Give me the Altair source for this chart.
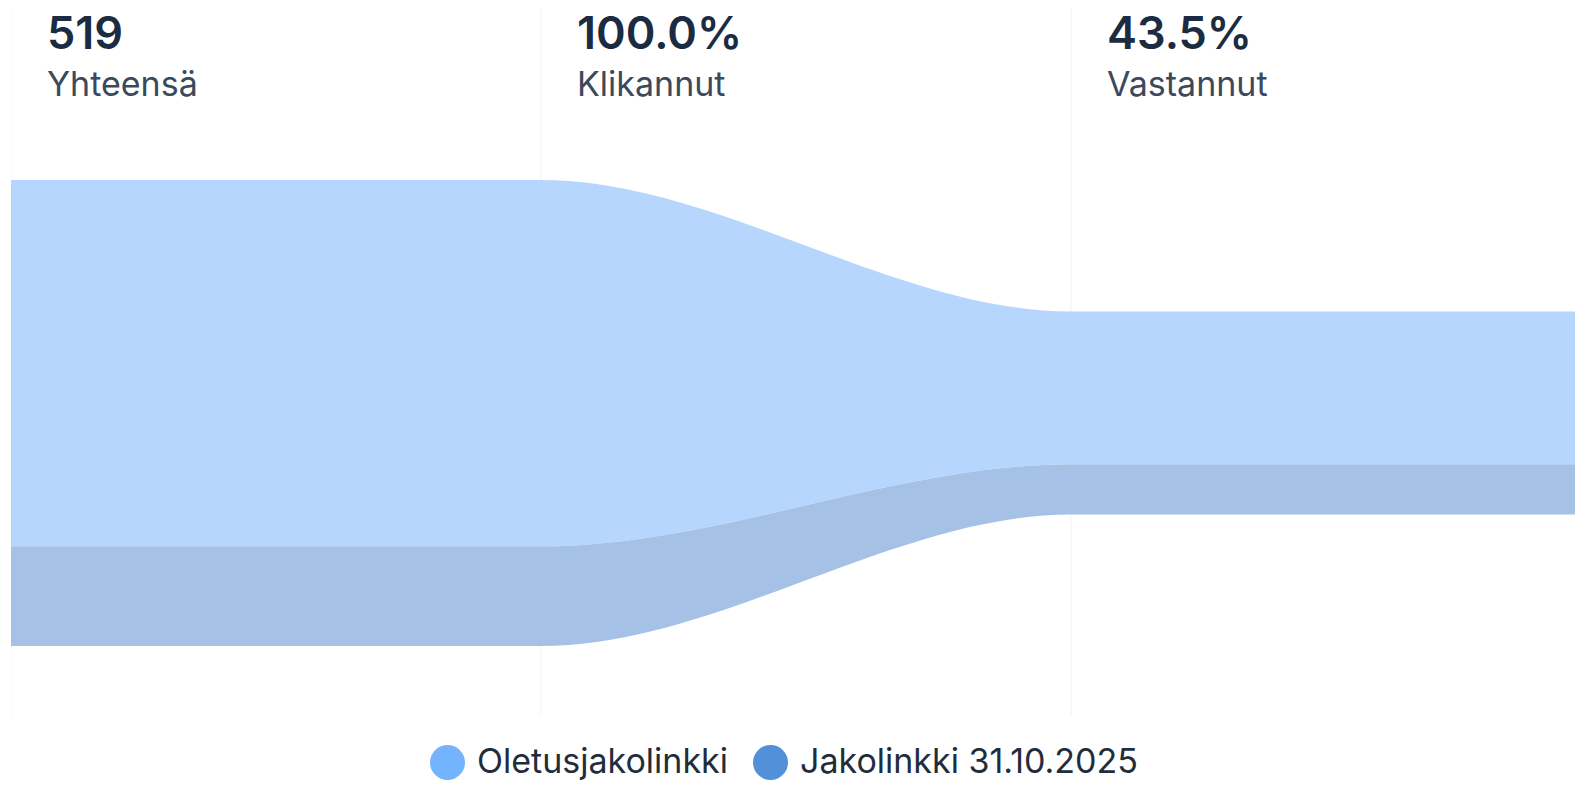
import altair as alt
import pandas as pd

# ---- data ----
stages = ["Yhteensä", "Klikannut", "Vastannut"]
series = ["Oletusjakolinkki", "Jakolinkki 31.10.2025"]
oletus = [408, 408, 170]
jako = [111, 111, 56]

legend_colors = ["#74B4FF", "#5290D9"]
area_colors = ["#B6D6FE", "#A5C2E6"]

# ---- tables ----
rows = []
for i in range(len(stages)):
    rows.append({"x": i, "series": series[0], "value": oletus[i], "ord": 1})
    rows.append({"x": i, "series": series[1], "value": jako[i], "ord": 0})
last = len(stages) - 1
rows.append({"x": last + 1, "series": series[0], "value": oletus[last], "ord": 1})
rows.append({"x": last + 1, "series": series[1], "value": jako[last], "ord": 0})
df = pd.DataFrame(rows)

totals = [o + j for o, j in zip(oletus, jako)]
heads = [str(totals[0])] + [f"{t / totals[0] * 100:.1f}%" for t in totals[1:]]
hdf = pd.DataFrame({"x": list(range(len(stages))), "stage": stages, "head": heads})
grid = pd.DataFrame({"x": list(range(len(stages) + 1))})

W, H = 1564, 707
COL = 530.0
xs = alt.Scale(domain=[0, W / COL], nice=False, zero=False)
ys = alt.Scale(domain=[-76.85, 710.55], nice=False, zero=False)

rules = alt.Chart(grid).mark_rule(color="#F1F2F4", strokeWidth=1, clip=True).encode(
    x=alt.X("x:Q", scale=xs, axis=None),
    y=alt.value(0),
    y2=alt.value(H),
)

area = alt.Chart(df).mark_area(interpolate="monotone", clip=True).encode(
    x=alt.X("x:Q", scale=xs, axis=None),
    y=alt.Y("value:Q", stack="center", scale=ys, axis=None),
    color=alt.Color("series:N", scale=alt.Scale(domain=series, range=area_colors), legend=None),
    order=alt.Order("ord:Q"),
)

legend_layer = alt.Chart(df).mark_circle(opacity=0, clip=True).encode(
    x=alt.X("x:Q", scale=xs, axis=None),
    y=alt.Y("value:Q", scale=ys, axis=None, stack=None),
    color=alt.Color(
        "series:N",
        scale=alt.Scale(domain=series, range=legend_colors),
        legend=alt.Legend(
            title=None,
            orient="none",
            legendX=419,
            legendY=737,
            direction="horizontal",
            symbolType="circle",
            symbolSize=1225,
            symbolOpacity=1,
            symbolStrokeWidth=0,
            labelFont="Inter",
            labelFontSize=34,
            labelColor="#1F2D3D",
            labelOffset=12,
            columnPadding=25,
            labelLimit=0,
        ),
    ),
)

nums = alt.Chart(hdf).mark_text(
    align="left", baseline="alphabetic", dx=36, font="Inter", fontSize=45,
    fontWeight=600, color="#1A2B42",
).encode(x=alt.X("x:Q", scale=xs, axis=None), y=alt.value(41), text="head:N")

labs = alt.Chart(hdf).mark_text(
    align="left", baseline="alphabetic", dx=36, font="Inter", fontSize=34,
    fontWeight=400, color="#3A4A5C",
).encode(x=alt.X("x:Q", scale=xs, axis=None), y=alt.value(88), text="stage:N")

chart = (
    alt.layer(rules, area, legend_layer, nums, labs)
    .resolve_scale(color="independent")
    .properties(
        width=W, height=H,
        padding={"left": 3, "top": 0, "right": 0, "bottom": 65},
        autosize=alt.AutoSizeParams(type="none"),
        background="white",
    )
    .configure_view(stroke=None)
)

chart.save("out.html", embed_options={"renderer": "svg", "actions": False})
